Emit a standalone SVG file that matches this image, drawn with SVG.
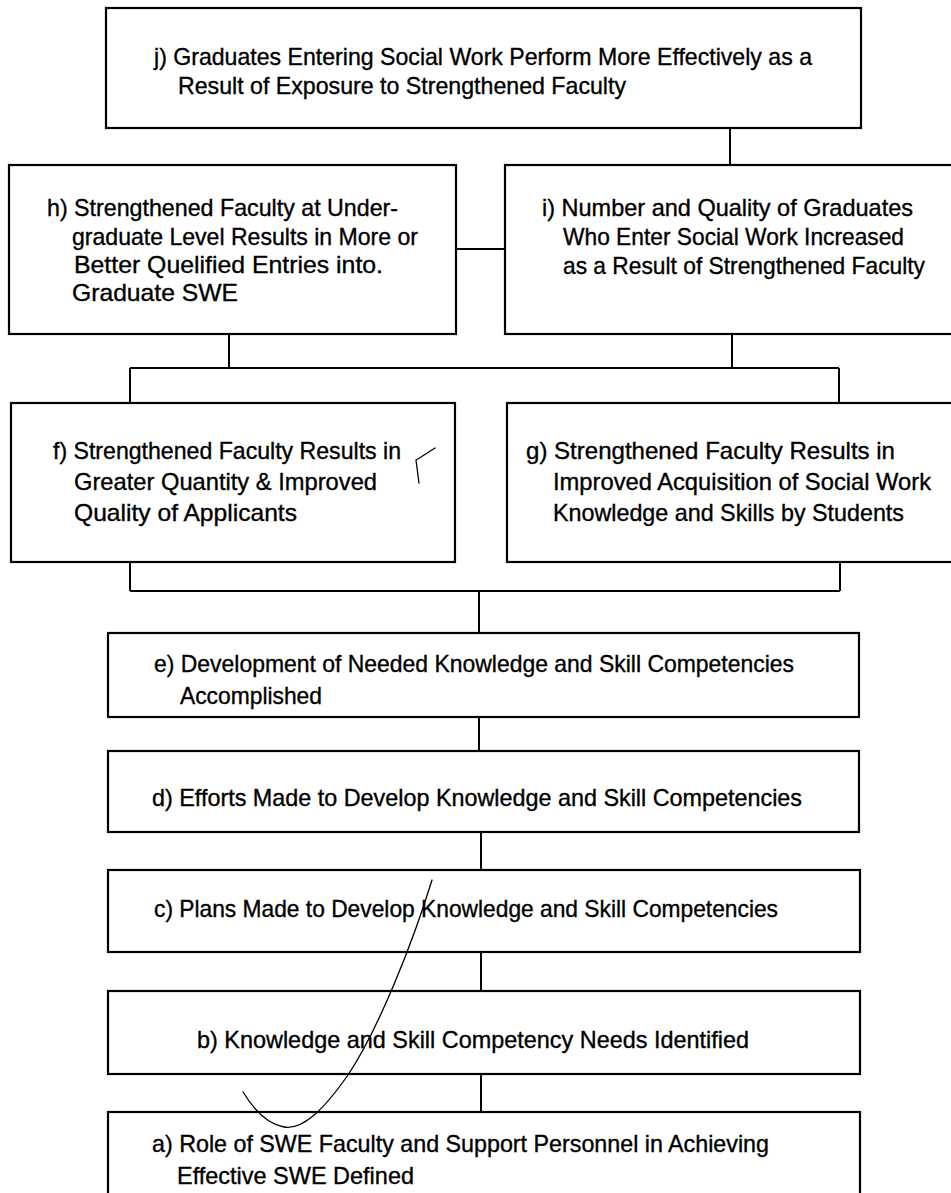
<svg xmlns="http://www.w3.org/2000/svg" width="951" height="1193" viewBox="0 0 951 1193">
  <style>
    .box { fill: #ffffff; stroke: #000000; stroke-width: 2.2; }
    .link { fill: none; stroke: #000000; stroke-width: 2; }
    .pen { fill: none; stroke: #000000; stroke-width: 1.3; stroke-linecap: round; }
    text { font-family: "Liberation Sans Narrow", "Liberation Sans", Arial, sans-serif; font-size: 24px; fill: #000000; stroke: #000000; stroke-width: 0.35; }
  </style>
  <rect width="951" height="1193" fill="#ffffff"/>

  <!-- connectors -->
  <g id="connectors">
    <path class="link" d="M730 128 V165"/>
    <path class="link" d="M456 249 H505"/>
    <path class="link" d="M229 334 V368 M732 334 V368 M130 368 H839 M130 368 V403 M839 368 V403"/>
    <path class="link" d="M130 562 V591 M840 562 V591 M130 591 H840 M479 591 V633"/>
    <path class="link" d="M479 717 V751"/>
    <path class="link" d="M481 832 V870"/>
    <path class="link" d="M481 952 V991"/>
    <path class="link" d="M481 1074 V1112"/>
  </g>

  <g id="node-j">
    <rect class="box" x="106" y="8" width="755" height="120"/>
    <text x="154" y="65" textLength="658" lengthAdjust="spacingAndGlyphs">j) Graduates Entering Social Work Perform More Effectively as a</text>
    <text x="178" y="94" textLength="448" lengthAdjust="spacingAndGlyphs">Result of Exposure to Strengthened Faculty</text>
  </g>

  <g id="node-h">
    <rect class="box" x="9" y="165" width="447" height="169"/>
    <text x="47" y="216" textLength="351" lengthAdjust="spacingAndGlyphs">h) Strengthened Faculty at Under-</text>
    <text x="72" y="245" textLength="346" lengthAdjust="spacingAndGlyphs">graduate Level Results in More or</text>
    <text x="74" y="273" textLength="309" lengthAdjust="spacingAndGlyphs">Better Quelified Entries into.</text>
    <text x="72" y="301" textLength="166" lengthAdjust="spacingAndGlyphs">Graduate SWE</text>
  </g>

  <g id="node-i">
    <rect class="box" x="505" y="165" width="460" height="169"/>
    <text x="542" y="216" textLength="371" lengthAdjust="spacingAndGlyphs">i) Number and Quality of Graduates</text>
    <text x="563" y="245" textLength="341" lengthAdjust="spacingAndGlyphs">Who Enter Social Work Increased</text>
    <text x="563" y="274" textLength="362" lengthAdjust="spacingAndGlyphs">as a Result of Strengthened Faculty</text>
  </g>

  <g id="node-f">
    <rect class="box" x="11" y="403" width="444" height="159"/>
    <text x="53" y="459" textLength="348" lengthAdjust="spacingAndGlyphs">f) Strengthened Faculty Results in</text>
    <text x="74" y="490" textLength="303" lengthAdjust="spacingAndGlyphs">Greater Quantity &amp; Improved</text>
    <text x="74" y="521" textLength="223" lengthAdjust="spacingAndGlyphs">Quality of Applicants</text>
  </g>

  <g id="node-g">
    <rect class="box" x="507" y="403" width="460" height="159"/>
    <text x="526" y="459" textLength="369" lengthAdjust="spacingAndGlyphs">g) Strengthened Faculty Results in</text>
    <text x="553" y="490" textLength="378" lengthAdjust="spacingAndGlyphs">Improved Acquisition of Social Work</text>
    <text x="553" y="521" textLength="351" lengthAdjust="spacingAndGlyphs">Knowledge and Skills by Students</text>
  </g>

  <g id="node-e">
    <rect class="box" x="108" y="633" width="751" height="84"/>
    <text x="154" y="672" textLength="640" lengthAdjust="spacingAndGlyphs">e) Development of Needed Knowledge and Skill Competencies</text>
    <text x="180" y="704" textLength="142" lengthAdjust="spacingAndGlyphs">Accomplished</text>
  </g>

  <g id="node-d">
    <rect class="box" x="108" y="751" width="751" height="81"/>
    <text x="152" y="806" textLength="650" lengthAdjust="spacingAndGlyphs">d) Efforts Made to Develop Knowledge and Skill Competencies</text>
  </g>

  <g id="node-c">
    <rect class="box" x="108" y="870" width="752" height="82"/>
    <text x="154" y="917" textLength="624" lengthAdjust="spacingAndGlyphs">c) Plans Made to Develop Knowledge and Skill Competencies</text>
  </g>

  <g id="node-b">
    <rect class="box" x="108" y="991" width="752" height="83"/>
    <text x="197" y="1048" textLength="552" lengthAdjust="spacingAndGlyphs">b) Knowledge and Skill Competency Needs Identified</text>
  </g>

  <g id="node-a">
    <rect class="box" x="108" y="1112" width="752" height="100"/>
    <text x="152" y="1152" textLength="617" lengthAdjust="spacingAndGlyphs">a) Role of SWE Faculty and Support Personnel in Achieving</text>
    <text x="177" y="1184" textLength="237" lengthAdjust="spacingAndGlyphs">Effective SWE Defined</text>
  </g>

  <!-- hand-drawn pen strokes -->
  <path class="pen" d="M432 880 C412 945 378 1030 348 1075 C322 1112 302 1130 284 1127 C268 1124 254 1110 243 1092"/>
  <path class="pen" d="M435 448 L421 457 L416 460 L419 483"/>
</svg>
